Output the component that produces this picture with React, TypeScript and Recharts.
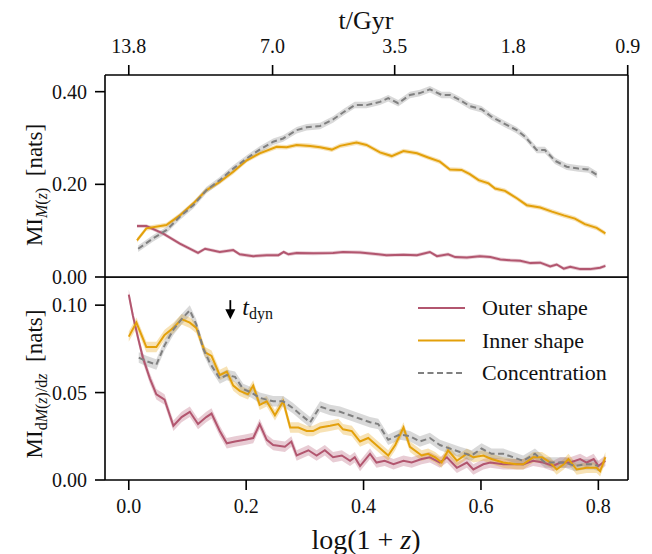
import {
  ComposedChart,
  Line,
  Area,
  XAxis,
  YAxis,
  Legend,
  ReferenceDot,
  ReferenceLine,
} from 'recharts';

// log(1+z) range and tick positions
const xDomain: [number, number] = [-0.0405, 0.8505];
const logTicks = [0, 0.2, 0.4, 0.6, 0.8];
const ageTicks = [0, 0.245, 0.453, 0.655, 0.85];
const ageLabels = ['13.8', '7.0', '3.5', '1.8', '0.9'];
const miTicks = [0, 0.2, 0.4];
const dmiTicks = [0, 0.05, 0.1];
const miMax = 0.436;
const dmiMax = 0.1161;

// MI_M(z), points are [log(1+z), nats]
const outerTop: [number, number][] = [
  [0.014, 0.110], [0.030, 0.110], [0.058, 0.094], [0.087, 0.072], [0.118, 0.052],
  [0.130, 0.061], [0.155, 0.054], [0.178, 0.058], [0.189, 0.049], [0.212, 0.045],
  [0.235, 0.047], [0.255, 0.047], [0.264, 0.054], [0.272, 0.049], [0.286, 0.052],
  [0.314, 0.051], [0.348, 0.052], [0.365, 0.054], [0.394, 0.053], [0.425, 0.049],
  [0.439, 0.047], [0.468, 0.048], [0.491, 0.047], [0.513, 0.054], [0.525, 0.045],
  [0.544, 0.049], [0.556, 0.043], [0.576, 0.042], [0.598, 0.045], [0.616, 0.043],
  [0.633, 0.038], [0.650, 0.036], [0.667, 0.035], [0.684, 0.030], [0.701, 0.031],
  [0.718, 0.023], [0.729, 0.027], [0.741, 0.018], [0.752, 0.022], [0.769, 0.017],
  [0.786, 0.017], [0.803, 0.020], [0.812, 0.024],
];
const innerTop: [number, number][] = [
  [0.014, 0.079], [0.030, 0.105], [0.064, 0.112], [0.087, 0.133], [0.110, 0.159],
  [0.132, 0.187], [0.155, 0.205], [0.178, 0.227], [0.201, 0.252], [0.223, 0.267],
  [0.252, 0.281], [0.269, 0.280], [0.286, 0.285], [0.309, 0.283], [0.326, 0.280],
  [0.346, 0.275], [0.360, 0.283], [0.388, 0.290], [0.405, 0.285], [0.428, 0.269],
  [0.448, 0.261], [0.468, 0.272], [0.491, 0.267], [0.510, 0.258], [0.530, 0.249],
  [0.547, 0.232], [0.567, 0.231], [0.581, 0.222], [0.596, 0.209], [0.613, 0.202],
  [0.624, 0.191], [0.641, 0.186], [0.661, 0.170], [0.678, 0.155], [0.701, 0.150],
  [0.721, 0.141], [0.741, 0.133], [0.760, 0.126], [0.777, 0.114], [0.797, 0.106],
  [0.812, 0.094],
];
const concTop: [number, number][] = [
  [0.016, 0.061], [0.041, 0.083], [0.064, 0.101], [0.087, 0.130], [0.110, 0.155],
  [0.132, 0.187], [0.155, 0.209], [0.178, 0.234], [0.201, 0.256], [0.223, 0.275],
  [0.246, 0.292], [0.263, 0.299], [0.286, 0.317], [0.303, 0.323], [0.326, 0.326],
  [0.348, 0.340], [0.365, 0.355], [0.385, 0.371], [0.405, 0.371], [0.428, 0.378],
  [0.442, 0.386], [0.459, 0.375], [0.479, 0.393], [0.496, 0.397], [0.513, 0.405],
  [0.533, 0.393], [0.547, 0.393], [0.564, 0.382], [0.581, 0.369], [0.601, 0.362],
  [0.618, 0.346], [0.638, 0.332], [0.661, 0.317], [0.675, 0.303], [0.695, 0.274],
  [0.709, 0.274], [0.726, 0.251], [0.746, 0.238], [0.766, 0.234], [0.783, 0.232],
  [0.798, 0.220],
];

// MI_dM(z)/dz
const outerBottom: [number, number][] = [
  [0.000, 0.106], [0.007, 0.094], [0.016, 0.081], [0.024, 0.070], [0.036, 0.058],
  [0.047, 0.049], [0.061, 0.046], [0.076, 0.031], [0.090, 0.036], [0.104, 0.039],
  [0.118, 0.032], [0.132, 0.036], [0.141, 0.038], [0.155, 0.028], [0.167, 0.021],
  [0.181, 0.022], [0.198, 0.023], [0.212, 0.024], [0.223, 0.032], [0.235, 0.023],
  [0.246, 0.020], [0.266, 0.019], [0.277, 0.022], [0.286, 0.014], [0.306, 0.017],
  [0.320, 0.014], [0.334, 0.017], [0.348, 0.013], [0.363, 0.014], [0.377, 0.011],
  [0.385, 0.013], [0.394, 0.008], [0.411, 0.015], [0.422, 0.010], [0.436, 0.011],
  [0.451, 0.009], [0.468, 0.011], [0.482, 0.010], [0.499, 0.012], [0.513, 0.013],
  [0.530, 0.010], [0.542, 0.013], [0.559, 0.007], [0.576, 0.010], [0.587, 0.006],
  [0.604, 0.009], [0.616, 0.010], [0.638, 0.009], [0.655, 0.009], [0.672, 0.009],
  [0.689, 0.011], [0.706, 0.010], [0.723, 0.008], [0.735, 0.010], [0.752, 0.010],
  [0.769, 0.012], [0.780, 0.010], [0.792, 0.012], [0.800, 0.008], [0.812, 0.011],
];
const innerBottom: [number, number][] = [
  [0.000, 0.082], [0.013, 0.090], [0.030, 0.076], [0.047, 0.076], [0.061, 0.083],
  [0.076, 0.087], [0.090, 0.092], [0.104, 0.090], [0.115, 0.087], [0.130, 0.073],
  [0.141, 0.071], [0.155, 0.060], [0.167, 0.062], [0.178, 0.054], [0.189, 0.051],
  [0.203, 0.049], [0.212, 0.054], [0.223, 0.043], [0.235, 0.045], [0.249, 0.037],
  [0.263, 0.045], [0.275, 0.030], [0.289, 0.030], [0.303, 0.028], [0.314, 0.028],
  [0.326, 0.030], [0.343, 0.031], [0.357, 0.032], [0.365, 0.029], [0.380, 0.028],
  [0.394, 0.022], [0.408, 0.024], [0.425, 0.019], [0.442, 0.014], [0.454, 0.020],
  [0.468, 0.030], [0.479, 0.019], [0.499, 0.014], [0.510, 0.015], [0.522, 0.013],
  [0.533, 0.010], [0.544, 0.017], [0.559, 0.011], [0.576, 0.015], [0.587, 0.013],
  [0.604, 0.014], [0.618, 0.012], [0.638, 0.010], [0.661, 0.009], [0.672, 0.009],
  [0.689, 0.013], [0.704, 0.013], [0.718, 0.010], [0.729, 0.006], [0.741, 0.009],
  [0.749, 0.012], [0.763, 0.006], [0.780, 0.007], [0.797, 0.007], [0.803, 0.005],
  [0.812, 0.013],
];
const concBottom: [number, number][] = [
  [0.017, 0.070], [0.030, 0.068], [0.047, 0.066], [0.061, 0.077], [0.076, 0.086],
  [0.090, 0.092], [0.104, 0.097], [0.115, 0.089], [0.127, 0.075], [0.138, 0.067],
  [0.155, 0.058], [0.167, 0.060], [0.181, 0.059], [0.195, 0.052], [0.209, 0.050],
  [0.223, 0.047], [0.246, 0.045], [0.263, 0.045], [0.280, 0.041], [0.294, 0.037],
  [0.309, 0.033], [0.326, 0.042], [0.343, 0.040], [0.360, 0.039], [0.377, 0.037],
  [0.394, 0.035], [0.411, 0.033], [0.425, 0.032], [0.442, 0.023], [0.462, 0.026],
  [0.479, 0.025], [0.496, 0.022], [0.513, 0.024], [0.530, 0.020], [0.547, 0.018],
  [0.564, 0.016], [0.584, 0.014], [0.601, 0.018], [0.618, 0.015], [0.638, 0.015],
  [0.655, 0.013], [0.672, 0.011], [0.692, 0.015], [0.709, 0.010], [0.726, 0.010],
  [0.743, 0.010], [0.760, 0.008], [0.777, 0.009], [0.792, 0.009], [0.800, 0.008],
];

// half-width of the shaded scatter bands
const outerTopErr = 0.004;
const innerTopErr = 0.005;
const concTopErr = 0.007;
const outerBottomErr = 0.003;
const innerBottomErr = 0.003;
const concBottomErr = 0.003;

const OUTER = '#b2566f';
const INNER = '#e3a00a';
const CONC = '#808080';
const FONT = '"Liberation Serif", "DejaVu Serif", serif';
const INK = '#111';
const LW = 1.6;

const legendItems = [
  { name: 'Outer shape', color: OUTER, dash: undefined },
  { name: 'Inner shape', color: INNER, dash: undefined },
  { name: 'Concentration', color: CONC, dash: '6 3.5' },
];

const rows = (pts: [number, number][], err: number) =>
  pts.map(([x, y]) => ({ x, y, band: [y - err, y + err] }));

const TICK = 10;
const GAP = 8;

// tick renderers draw the tick mark too, so it sits right against the frame
const LeftTick = (p: any) => (
  <g>
    <rect x={p.x + GAP} y={p.y - LW / 2} width={TICK} height={LW} fill="#000" />
    <text x={p.x} y={p.y + 7} textAnchor="end" fontSize={20} fontFamily={FONT} fill={INK}>
      {p.payload.value.toFixed(2)}
    </text>
  </g>
);

const BottomTick = (p: any) => (
  <g>
    <rect x={p.x - LW / 2} y={p.y - GAP - TICK} width={LW} height={TICK} fill="#000" />
    <text x={p.x} y={p.y + 15} textAnchor="middle" fontSize={20} fontFamily={FONT} fill={INK}>
      {p.payload.value.toFixed(1)}
    </text>
  </g>
);

const TopTick = (p: any) => (
  <g>
    <rect x={p.x - LW / 2} y={p.y + GAP} width={LW} height={TICK} fill="#000" />
    <text x={p.x} y={p.y - 4} textAnchor="middle" fontSize={20} fontFamily={FONT} fill={INK}>
      {ageLabels[ageTicks.indexOf(p.payload.value)]}
    </text>
  </g>
);

function series(pts: [number, number][], err: number, color: string, name: string, dash?: string) {
  const data = rows(pts, err);
  return [
    <Area
      key={name + '-band'}
      data={data}
      dataKey="band"
      xAxisId="b"
      yAxisId="l"
      type="linear"
      stroke="none"
      fill={color}
      fillOpacity={0.3}
      legendType="none"
      isAnimationActive={false}
    />,
    <Line
      key={name}
      data={data}
      dataKey="y"
      name={name}
      xAxisId="b"
      yAxisId="l"
      type="linear"
      stroke={color}
      strokeWidth={2}
      strokeDasharray={dash}
      dot={false}
      isAnimationActive={false}
    />,
  ];
}

// panel frame: four reference lines on the domain edges
function frame(yMax: number) {
  const common = { xAxisId: 'b', yAxisId: 'l', stroke: '#000', strokeWidth: LW, ifOverflow: 'visible' as const };
  return [
    <ReferenceLine key="fl" x={xDomain[0]} {...common} />,
    <ReferenceLine key="fr" x={xDomain[1]} {...common} />,
    <ReferenceLine key="fb" y={0} {...common} />,
    <ReferenceLine key="ft" y={yMax} {...common} />,
  ];
}

const LegendBox = () => (
  <svg width={230} height={120}>
    {legendItems.map((it, i) => {
      const y = 31 + i * 32.5;
      return (
        <g key={it.name}>
          <line x1={8} x2={55} y1={y} y2={y} stroke={it.color} strokeWidth={2} strokeDasharray={it.dash} />
          <text x={72} y={y + 7} fontSize={22} fontFamily={FONT} fill={INK}>
            {it.name}
          </text>
        </g>
      );
    })}
  </svg>
);

const DynArrow = (props: any) => {
  const { cx, cy } = props;
  return (
    <g>
      <rect x={cx - 0.9} y={cy - 5} width={1.8} height={10} fill="#000" />
      <path d={`M${cx - 5},${cy + 4} L${cx + 5},${cy + 4} L${cx},${cy + 14} Z`} fill="#000" />
      <text x={cx + 12} y={cy + 10} fontFamily={FONT} fill={INK}>
        <tspan fontSize={24} fontStyle="italic">t</tspan>
        <tspan fontSize={16} dy={4}>dyn</tspan>
      </text>
    </g>
  );
};

export default function App() {
  return (
    <div style={{ position: 'absolute', left: 0, top: 0, width: 652, height: 554, background: '#fff' }}>
      <div style={{ position: 'absolute', left: 0, top: 0 }}>
        <ComposedChart width={652} height={300} margin={{ top: 0, right: 24, bottom: 23, left: 0 }}>
          <XAxis
            xAxisId="b"
            type="number"
            dataKey="x"
            domain={xDomain}
            allowDataOverflow
            tick={false}
            tickLine={false}
            axisLine={false}
            height={0}
          />
          <XAxis
            xAxisId="t"
            orientation="top"
            type="number"
            dataKey="x"
            domain={xDomain}
            allowDataOverflow
            ticks={ageTicks}
            interval={0}
            height={75}
            tickSize={TICK}
            tickMargin={GAP}
            tick={TopTick}
            tickLine={false}
            axisLine={false}
          />
          <YAxis
            yAxisId="l"
            type="number"
            domain={[0, miMax]}
            allowDataOverflow
            ticks={miTicks}
            interval={0}
            width={105}
            tickSize={TICK}
            tickMargin={GAP}
            tick={LeftTick}
            tickLine={false}
            axisLine={false}
          />
          {series(outerTop, outerTopErr, OUTER, 'Outer shape')}
          {series(innerTop, innerTopErr, INNER, 'Inner shape')}
          {series(concTop, concTopErr, CONC, 'Concentration', '6 3.5')}
          {frame(miMax)}
        </ComposedChart>
      </div>
      <div style={{ position: 'absolute', left: 0, top: 277 }}>
        <ComposedChart width={652} height={277} margin={{ top: 0, right: 24, bottom: 0, left: 0 }}>
          <XAxis
            xAxisId="b"
            type="number"
            dataKey="x"
            domain={xDomain}
            allowDataOverflow
            ticks={logTicks}
            interval={0}
            height={74}
            tickSize={TICK}
            tickMargin={GAP}
            tick={BottomTick}
            tickLine={false}
            axisLine={false}
          />
          <YAxis
            yAxisId="l"
            type="number"
            domain={[0, dmiMax]}
            allowDataOverflow
            ticks={dmiTicks}
            interval={0}
            width={105}
            tickSize={TICK}
            tickMargin={GAP}
            tick={LeftTick}
            tickLine={false}
            axisLine={false}
          />
          {series(outerBottom, outerBottomErr, OUTER, 'Outer shape')}
          {series(innerBottom, innerBottomErr, INNER, 'Inner shape')}
          {series(concBottom, concBottomErr, CONC, 'Concentration', '6 3.5')}
          {frame(dmiMax)}
          <ReferenceDot xAxisId="b" yAxisId="l" x={0.173} y={0.1} shape={DynArrow} />
          <Legend
            layout="vertical"
            align="center"
            verticalAlign="middle"
            content={() => <LegendBox />}
            wrapperStyle={{ position: 'absolute', left: 410, top: 0, width: 230 }}
          />
        </ComposedChart>
      </div>
      <svg
        width={652}
        height={554}
        style={{ position: 'absolute', left: 0, top: 0, pointerEvents: 'none' }}
        fontFamily={FONT}
        fill={INK}
      >
        <text x={366} y={29} textAnchor="middle" fontSize={26}>t/Gyr</text>
        <text x={366} y={549} textAnchor="middle" fontSize={28}>
          log(1 + <tspan fontStyle="italic">z</tspan>)
        </text>
        <text transform="translate(42,185) rotate(-90)" textAnchor="middle" fontSize={23}>
          MI
          <tspan fontSize={16} dy={5} fontStyle="italic">M</tspan>
          <tspan fontSize={16}>(</tspan>
          <tspan fontSize={16} fontStyle="italic">z</tspan>
          <tspan fontSize={16}>)</tspan>
          <tspan fontSize={23} dy={-5}>{'\u2002[nats]'}</tspan>
        </text>
        <text transform="translate(42,384) rotate(-90)" textAnchor="middle" fontSize={23}>
          MI
          <tspan fontSize={16} dy={5}>d</tspan>
          <tspan fontSize={16} fontStyle="italic">M</tspan>
          <tspan fontSize={16}>(</tspan>
          <tspan fontSize={16} fontStyle="italic">z</tspan>
          <tspan fontSize={16}>)/d</tspan>
          <tspan fontSize={16} fontStyle="italic">z</tspan>
          <tspan fontSize={23} dy={-5}>{'\u2002[nats]'}</tspan>
        </text>
      </svg>
    </div>
  );
}
